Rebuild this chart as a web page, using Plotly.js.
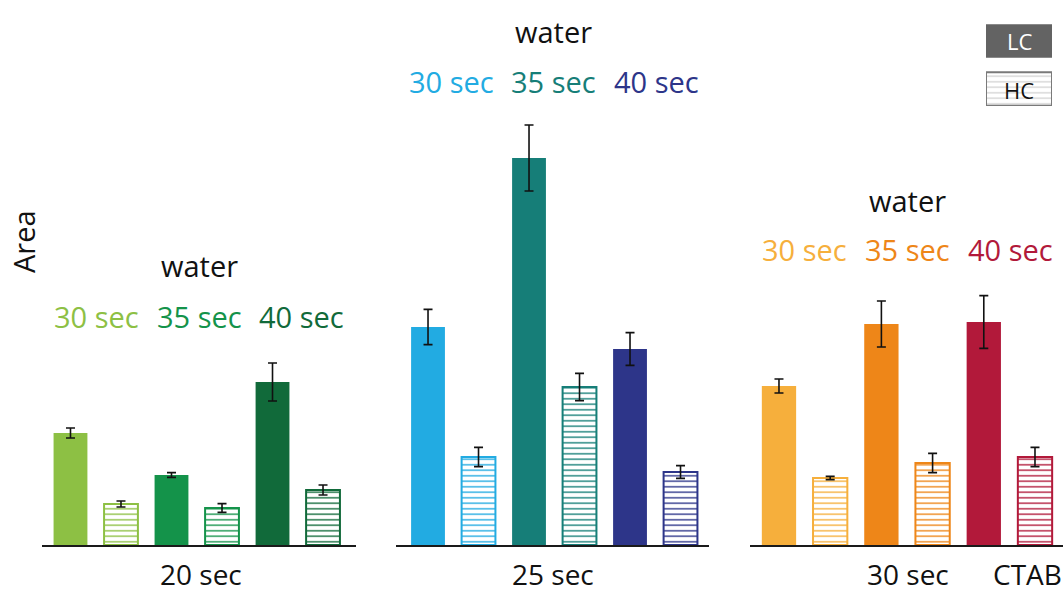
<!DOCTYPE html>
<html>
<head>
<meta charset="utf-8">
<script src="https://cdn.plot.ly/plotly-3.0.1.min.js"></script>
<style>
  html, body { margin: 0; padding: 0; background: #fff; }
  #chart { width: 1064px; height: 594px; }
</style>
</head>
<body>
<div id="chart"></div>
<script>
// ---- data ----
const groupNames = ["20 sec", "25 sec", "30 sec"];
const extraLabel = "CTAB";
const bars = ["LC 30 sec", "HC 30 sec", "LC 35 sec", "HC 35 sec", "LC 40 sec", "HC 40 sec"];
const headLabel = "water";
const subLabels = ["30 sec", "35 sec", "40 sec"];

const area20 = [28.0, 10.25, 17.5, 9.25, 40.75, 13.75];
const err20  = [1.25, 0.75, 0.6, 1.1, 4.75, 1.25];
const area25 = [54.5, 22.0, 96.75, 39.5, 49.0, 18.25];
const err25  = [4.4, 2.4, 8.25, 3.4, 4.1, 1.6];
const area30 = [39.75, 16.75, 55.25, 20.5, 55.75, 22.0];
const err30  = [1.75, 0.4, 5.75, 2.4, 6.6, 2.4];

const colors20 = ["#8DC044", "#14934A", "#116A3A"];
const colors25 = ["#22ABE2", "#167E78", "#2D3589"];
const colors30 = ["#F6AF3C", "#EE8618", "#B2193A"];

const legendLabels = ["HC", "LC"];
const legendValues = [1, 1];

// ---- helpers (layout only) ----
const W = 1064, H = 594;
const px = x => x / W;
const py = y => 1 - y / H;
const FONT = "Open Sans, Liberation Sans, sans-serif";

function barTrace(vals, errs, cols, xa) {
  const c = cols.flatMap(k => [k, k]);
  const hc = bars.map(b => b.startsWith("HC"));
  return {
    type: "bar", x: bars, y: vals, xaxis: xa, yaxis: "y",
    width: 0.67,
    marker: {
      color: c,
      line: { color: c, width: hc.map(h => h ? 2 : 0) },
      pattern: {
        shape: hc.map(h => h ? "-" : ""),
        fgcolor: c,
        bgcolor: "white",
        fillmode: "replace",
        size: 5.5,
        solidity: 0.25
      }
    },
    error_y: { type: "data", array: errs, visible: true, color: "#111", thickness: 1.6, width: 4.5 },
    hoverinfo: "x+y", showlegend: false
  };
}

const traces = [
  barTrace(area20, err20, colors20, "x"),
  barTrace(area25, err25, colors25, "x2"),
  barTrace(area30, err30, colors30, "x3"),
  {
    type: "bar", orientation: "h", y: legendLabels, x: legendValues,
    xaxis: "x4", yaxis: "y4", width: 0.7, textposition: "none",
    marker: {
      color: ["#c9c9c9", "#636363"],
      line: { color: ["#7a7a7a", "#636363"], width: [2, 0] },
      pattern: { shape: ["-", ""], fgcolor: ["#cfcfcf", "#636363"], bgcolor: "white", size: 5.5, solidity: 0.2 }
    },
    hoverinfo: "skip", showlegend: false
  }
];

function xax(l, r, range) {
  return {
    domain: [px(l), px(r)], anchor: "y", type: "category", range: range,
    showline: true, linecolor: "#1a1a1a", linewidth: 2,
    showticklabels: false, ticks: "", showgrid: false, zeroline: false, fixedrange: true
  };
}

const annotations = [];
function addText(text, x, y, color, extra) {
  annotations.push(Object.assign({
    text: text, xref: "paper", yref: "paper", x: px(x), y: py(y),
    xanchor: "center", yanchor: "middle", showarrow: false,
    font: { family: FONT, size: 29, color: color }
  }, extra || {}));
}
// group headers
const heads = [
  { cx: [96, 199, 301], wy: 265, sy: 316.5, cols: colors20 },
  { cx: [451, 553, 657], wy: 31, sy: 81.5, cols: colors25 },
  { cx: [804, 907.5, 1010], wy: 200, sy: 250, cols: colors30 }
];
heads.forEach(h => {
  addText(headLabel, h.cx[1], h.wy, "#111");
  subLabels.forEach((s, i) => addText(s, h.cx[i], h.sy, h.cols[i]));
});
// bottom labels (anchored to the bottom edge so they stay inside the picture)
const bottomX = [201, 553, 907.5, 1027];
groupNames.concat([extraLabel]).forEach((t, i) => {
  addText(t, bottomX[i], H, "#111", { yanchor: "bottom", borderpad: 0, font: { family: FONT, size: 28, color: "#111" } });
});
// y title
addText("Area", 23, 242, "#111", { textangle: -90 });
// legend key texts
addText(legendLabels[1], 1019, 41, "#ffffff", { font: { family: FONT, size: 22, color: "#ffffff" } });
addText(legendLabels[0], 1019, 90, "#111", { font: { family: FONT, size: 22, color: "#111" } });

const layout = {
  width: W, height: H,
  margin: { l: 0, r: 0, t: 0, b: 0 },
  paper_bgcolor: "white", plot_bgcolor: "rgba(0,0,0,0)",
  bargap: 0.3,
  xaxis: xax(42, 356, [-0.564, 5.653]),
  xaxis2: xax(396, 709, [-0.634, 5.564]),
  xaxis3: xax(750, 1063, [-0.566, 5.547]),
  yaxis: {
    domain: [1 - 545 / H, 1], range: [0, 136.25],
    showline: false, showticklabels: false, ticks: "", showgrid: false, zeroline: false, fixedrange: true
  },
  xaxis4: {
    domain: [px(986), px(1052)], anchor: "y4", range: [0, 1],
    visible: false, fixedrange: true
  },
  yaxis4: {
    domain: [py(106), py(24)], anchor: "x4", type: "category", range: [-0.354, 1.354],
    visible: false, fixedrange: true
  },
  annotations: annotations
};

Plotly.newPlot("chart", traces, layout, { displayModeBar: false, staticPlot: true });
</script>
</body>
</html>
